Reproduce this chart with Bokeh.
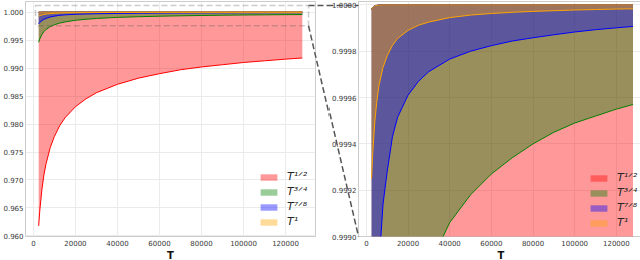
from bokeh.plotting import figure
from bokeh.layouts import row
from bokeh.models import (FixedTicker, PrintfTickFormatter, Legend, LegendItem,
                          Range1d, BoxAnnotation)
from bokeh.embed import file_html
from bokeh.resources import INLINE

# ---------------- data ----------------
T = [2500, 3000, 4000, 5000, 6000, 8000, 10000, 12500, 15000, 20000, 25000,
     30000, 40000, 50000, 60000, 70000, 80000, 90000, 100000, 110000, 120000, 128000]

lower_half = [0.9618, 0.9644, 0.9682, 0.9709, 0.9729, 0.9758, 0.9778, 0.9797,
              0.9811, 0.9831, 0.9845, 0.9856, 0.9871, 0.9882, 0.9890, 0.9897,
              0.9902, 0.9906, 0.9910, 0.9913, 0.9916, 0.9918]
lower_three_quarter = [0.99460, 0.99519, 0.99598, 0.99651, 0.99689, 0.99741, 0.99774,
                       0.99804, 0.99825, 0.99854, 0.99873, 0.99887, 0.99906, 0.99918,
                       0.99927, 0.99934, 0.99940, 0.99945, 0.99949, 0.99952, 0.99955,
                       0.99957]
lower_seven_eighth = [0.99790, 0.99815, 0.99848, 0.99870, 0.99887, 0.99914, 0.99928,
                      0.99943, 0.999515, 0.99961, 0.99967, 0.999712, 0.999766, 0.99980,
                      0.999824, 0.999844, 0.999858, 0.999871, 0.999883, 0.999893,
                      0.999901, 0.999907]
lower_one = [0.99925, 0.99935, 0.99949, 0.99958, 0.99965, 0.99973, 0.99978, 0.999825,
             0.999855, 0.99989, 0.999912, 0.999926, 0.999945, 0.999956, 0.999963,
             0.999968, 0.999972, 0.999975, 0.999978, 0.99998, 0.999982, 0.999983]
upper = [0.99998, 0.999989, 0.999995, 0.999998, 0.999999, 1.0, 1.0, 1.0, 1.0, 1.0, 1.0,
         1.0, 1.0, 1.0, 1.0, 1.0, 1.0, 1.0, 1.0, 1.0, 1.0, 1.0]

labels = ["T\u00b9\u141f\u00b2", "T\u00b3\u141f\u2074", "T\u2077\u141f\u2078", "T\u00b9"]
colors = ["#ff0000", "#008000", "#0000ff", "#ffa500"]
lowers = [lower_half, lower_three_quarter, lower_seven_eighth, lower_one]

x_ticks = [0, 20000, 40000, 60000, 80000, 100000, 120000]
y_ticks_main = [0.960, 0.965, 0.970, 0.975, 0.980, 0.985, 0.990, 0.995, 1.000]
y_ticks_zoom = [0.9990, 0.9992, 0.9994, 0.9996, 0.9998, 1.0000]

# zoom-indicator box on the main panel (data units)
box_left, box_right, box_bottom, box_top = 1000, 130960, 0.99756, 1.00119

# ---------------- layout (page pixels) ----------------
X0, X1 = -3775, 134275
LY0, LY1 = 0.9599, 1.0019
TOP, BOTTOM, FH = 1, 24, 235          # shared by both panels (frames are aligned in a row)
L_fw, L_mbl, L_mbr = 290, 23, 14
R_fw, R_mbl, R_mbr = 285, 28, 0
R_pxu = 0.0020833                     # px per unit of T on the zoom panel
R_pyu = 231600.0                      # px per unit of y on the zoom panel
RX1 = X0 + R_fw / R_pxu
RY0 = 0.9990
RY1 = RY0 + FH / R_pyu

TXT = "#3a3a3a"
GRID = "#ebebeb"
DASH_C = "#555555"


def style(p, yticks, yfmt):
    p.background_fill_color = "white"
    p.border_fill_color = "white"
    p.outline_line_color = "#cccccc"
    p.outline_line_width = 1
    p.xaxis.ticker = FixedTicker(ticks=x_ticks)
    p.xaxis.formatter = PrintfTickFormatter(format="%d")
    p.yaxis.ticker = FixedTicker(ticks=yticks)
    p.yaxis.formatter = PrintfTickFormatter(format=yfmt)
    for ax in (p.xaxis[0], p.yaxis[0]):
        ax.axis_line_color = None
        ax.major_tick_line_color = None
        ax.minor_tick_line_color = None
        ax.major_tick_out = 0
        ax.major_tick_in = 0
        ax.minor_tick_out = 0
        ax.minor_tick_in = 0
        ax.major_label_text_font = "DejaVu Sans"
        ax.major_label_text_font_size = "7px"
        ax.major_label_text_color = TXT
        ax.major_label_standoff = 2
    p.xaxis.major_label_standoff = 3
    p.xaxis.axis_label = "T"
    p.xaxis.axis_label_text_font = "DejaVu Sans"
    p.xaxis.axis_label_text_font_style = "bold"
    p.xaxis.axis_label_text_font_size = "10px"
    p.xaxis.axis_label_text_color = "#111111"
    p.xaxis.axis_label_standoff = 1
    p.grid.grid_line_color = GRID
    p.grid.grid_line_width = 1


def add_series(p):
    items = []
    for lab, col, low in zip(labels, colors, lowers):
        r = p.varea(x=T, y1=low, y2=upper, fill_color=col, fill_alpha=0.4)
        p.line(x=T, y=low, line_color=col, line_width=1)
        p.line(x=T, y=upper, line_color=col, line_width=1)
        items.append(LegendItem(label=lab, renderers=[r]))
    return items


def add_legend(p, items, loc):
    lg = Legend(items=items, location=loc, orientation="vertical",
                background_fill_alpha=0, border_line_color=None,
                padding=0, margin=0, spacing=2,
                glyph_width=21, glyph_height=8, label_height=12,
                label_standoff=8,
                label_text_font="DejaVu Sans", label_text_font_style="italic",
                label_text_font_size="11px", label_text_color="#262626")
    p.add_layout(lg, "center")


# ---------------- main panel ----------------
pl = figure(x_range=Range1d(X0, X1), y_range=Range1d(LY0, LY1),
            frame_width=L_fw, frame_height=FH, title=None,
            min_border_left=L_mbl, min_border_right=L_mbr,
            min_border_top=TOP, min_border_bottom=BOTTOM,
            output_backend="svg", toolbar_location=None)
style(pl, y_ticks_main, "%.3f")
items_l = add_series(pl)
add_legend(pl, items_l, (233, 8))

# ---------------- zoomed panel ----------------
pr = figure(x_range=Range1d(X0, RX1), y_range=Range1d(RY0, RY1),
            frame_width=R_fw, frame_height=FH, title=None,
            min_border_left=R_mbl, min_border_right=R_mbr,
            min_border_top=TOP, min_border_bottom=BOTTOM,
            output_backend="svg", toolbar_location=None)
style(pr, y_ticks_zoom, "%.4f")
items_r = add_series(pr)
add_legend(pr, items_r, (230, 7))

# ---------------- zoom indicator + connectors ----------------
L_pxu = L_fw / (X1 - X0)
L_pyu = FH / (LY1 - LY0)
L_left = L_mbl
R_left = L_mbl + L_fw + L_mbr + R_mbl
R_bot = TOP + FH


def lx(wx):
    return X0 + (wx - L_left) / L_pxu


def ly(wy):
    return LY1 - (wy - TOP) / L_pyu


def rx(wx):
    return X0 + (wx - R_left) / R_pxu


def ry(wy):
    return RY1 - (wy - TOP) / R_pyu


box_right_w = L_left + (box_right - X0) * L_pxu
box_top_w = TOP + (LY1 - box_top) * L_pyu
box_bot_w = TOP + (LY1 - box_bottom) * L_pyu

pl.add_layout(BoxAnnotation(left=box_left, right=box_right, bottom=box_bottom, top=box_top,
                            fill_alpha=0, line_color=DASH_C, line_width=1.5, line_dash="6 3"))

dash_kw = dict(line_color=DASH_C, line_width=1.5, line_dash="6 3", level="overlay")
# connectors, drawn on the main panel ...
pl.line(x=[box_right, lx(R_left)], y=[box_top, box_top], **dash_kw)
pl.line(x=[box_right, lx(R_left)], y=[box_bottom, ly(R_bot)], **dash_kw)
# ... and continued on the zoom panel
pr.line(x=[rx(box_right_w), X0], y=[ry(box_top_w), ry(box_top_w)], **dash_kw)
pr.line(x=[rx(box_right_w), X0], y=[ry(box_bot_w), RY0], **dash_kw)

layout = row(pl, pr)
open("out.html", "w").write(file_html(layout, INLINE))
